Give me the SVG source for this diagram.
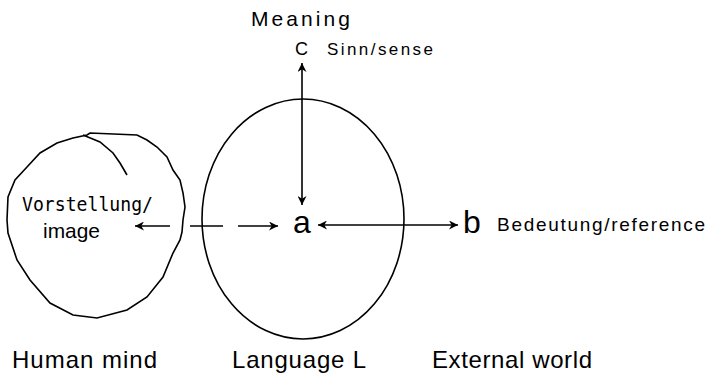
<svg xmlns="http://www.w3.org/2000/svg" width="707" height="375" viewBox="0 0 707 375">
<style>
.ln{stroke:#000;stroke-width:1.6;fill:none}
.t{font-family:"Liberation Sans",Arial,sans-serif;fill:#000}
.m{font-family:"DejaVu Sans Mono","Liberation Mono",monospace;fill:#000}
</style>
<defs>
<marker id="ah" viewBox="0 0 10 10" refX="10" refY="5" markerWidth="9" markerHeight="9" markerUnits="userSpaceOnUse" orient="auto-start-reverse">
<path d="M0,0 L10,5 L0,10 L3,5 Z" fill="#000"/>
</marker>
</defs>
<rect width="707" height="375" fill="#fff"/>
<g id="human-mind">
<path class="ln" d="M7,220 L8,197 L15,180 L27,167 L40,153 L57,143 L73,138 L87,135 L90,133 L137,135 L147,140 L157,147 L167,157 L173,170 L180,180 L183,193 L185,207 L183,220 L182,232 L180,240 L173,253 L163,277 L147,297 L127,310 L97,318 L73,315 L50,303 L30,280 L17,260 L8,233 Z"/>
<path class="ln" d="M83,135 L100,142 L113,153 L120,163 L127,175"/>
<text class="m" x="22" y="211" font-size="19" textLength="131" lengthAdjust="spacingAndGlyphs">Vorstellung/</text>
<text class="t" x="43" y="238" font-size="21" textLength="57" lengthAdjust="spacingAndGlyphs">image</text>
<text class="t" x="12" y="368" font-size="24" textLength="145" lengthAdjust="spacing">Human mind</text>
</g>
<g id="language">
<ellipse class="ln" cx="303" cy="219" rx="101" ry="120"/>
<text class="t" x="293" y="233" font-size="32">a</text>
<text class="t" x="232" y="368" font-size="24" textLength="134" lengthAdjust="spacing">Language L</text>
</g>
<g id="meaning">
<text class="t" x="251" y="26" font-size="21" textLength="99" lengthAdjust="spacing">Meaning</text>
<text class="t" x="295" y="55" font-size="18">C</text>
<text class="t" x="327" y="55" font-size="17" textLength="106" lengthAdjust="spacing">Sinn/sense</text>
</g>
<g id="external-world">
<text class="t" x="463" y="233" font-size="32">b</text>
<text class="t" x="497" y="231" font-size="19" textLength="208" lengthAdjust="spacing">Bedeutung/reference</text>
<text class="t" x="432" y="368" font-size="24" textLength="160" lengthAdjust="spacing">External world</text>
</g>
<g id="connectors">
<line class="ln" x1="302" y1="63" x2="302" y2="205" marker-start="url(#ah)" marker-end="url(#ah)"/>
<line class="ln" x1="318" y1="225" x2="458" y2="225" marker-start="url(#ah)" marker-end="url(#ah)"/>
<line class="ln" x1="170" y1="226" x2="135" y2="226" marker-end="url(#ah)"/>
<line class="ln" x1="190" y1="226" x2="223" y2="226"/>
<line class="ln" x1="238" y1="226" x2="278" y2="226" marker-end="url(#ah)"/>
</g>
</svg>
